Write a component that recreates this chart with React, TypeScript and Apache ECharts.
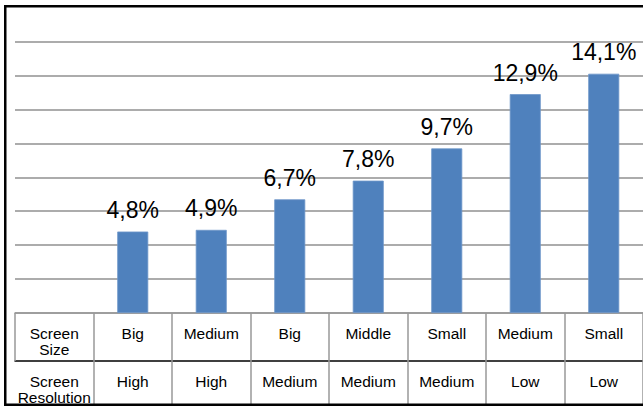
import React, { useEffect, useRef } from "react";
import * as echarts from "echarts";

const sizeHeader = "Screen\nSize";
const resolutionHeader = "Screen\nResolution";
const screenSizes = ["Big", "Medium", "Big", "Middle", "Small", "Medium", "Small"];
const screenResolutions = ["High", "High", "Medium", "Medium", "Medium", "Low", "Low"];
const shares = [4.8, 4.9, 6.7, 7.8, 9.7, 12.9, 14.1];
const yMin = 0;
const yMax = 16;
const yInterval = 2;

const FONT = "'Liberation Sans', Arial, Helvetica, sans-serif";

export default function App() {
  const ref = useRef<HTMLDivElement>(null);

  useEffect(() => {
    if (!ref.current) return;
    const chart = echarts.init(ref.current, null, { renderer: "svg" });
    const sizeCats = [sizeHeader, ...screenSizes];
    const resCats = [resolutionHeader, ...screenResolutions];
    const barData: (number | string)[] = ["-", ...shares];

    const labelStyle = {
      interval: 0,
      color: "#000",
      fontFamily: FONT,
      fontSize: 15.5,
      lineHeight: 16,
      margin: 12.5,
      verticalAlign: "top" as const,
    };

    chart.setOption({
      animation: false,
      backgroundColor: "#fff",
      grid: { left: 15, right: -4, top: 41.5, bottom: 95, containLabel: false },
      xAxis: [
        {
          type: "category",
          data: sizeCats,
          position: "bottom",
          axisLine: { show: true, lineStyle: { color: "#999", width: 1.5 } },
          axisTick: {
            show: true,
            length: 48,
            inside: false,
            lineStyle: { color: "#999", width: 1.5 },
          },
          axisLabel: labelStyle,
          splitLine: { show: false },
        },
        {
          type: "category",
          data: resCats,
          position: "bottom",
          offset: 48,
          axisLine: { show: true, lineStyle: { color: "#000", width: 1.5 } },
          axisTick: {
            show: true,
            length: 44,
            inside: false,
            interval: (index: number) => index !== 0,
            lineStyle: { color: "#999", width: 1.5 },
          },
          axisLabel: labelStyle,
          splitLine: { show: false },
        },
      ],
      yAxis: {
        type: "value",
        min: yMin,
        max: yMax,
        interval: yInterval,
        axisLine: { show: false },
        axisTick: { show: false },
        axisLabel: { show: false },
        splitLine: { show: true, lineStyle: { color: "#919191", width: 1.5 } },
      },
      series: [
        {
          type: "bar",
          xAxisIndex: 0,
          data: barData,
          barWidth: 31,
          itemStyle: { color: "#4F81BD", borderColor: "#6f97c9", borderWidth: 0.8 },
          label: {
            show: true,
            position: "top",
            distance: 10,
            color: "#000",
            fontFamily: FONT,
            fontSize: 23,
            formatter: (p: any) => Number(p.value).toFixed(1).replace(".", ",") + "%",
          },
        },
      ],
      graphic: [
        {
          type: "rect",
          z: 100,
          silent: true,
          shape: { x: 5.25, y: 6.25, width: 700, height: 398.5 },
          style: { fill: "transparent", stroke: "#000", lineWidth: 2.5 },
        },
      ],
    });
    return () => chart.dispose();
  }, []);

  return (
    <div
      ref={ref}
      style={{ position: "absolute", left: 0, top: 0, width: 643, height: 408 }}
    />
  );
}
